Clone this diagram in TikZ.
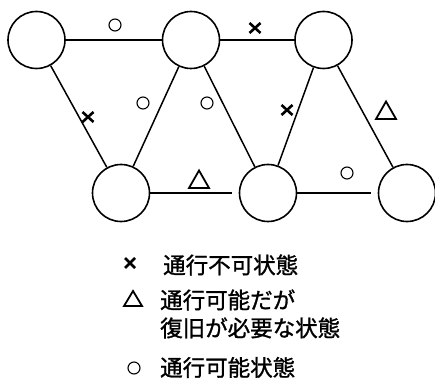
\documentclass[tikz,border=0pt]{standalone}
\usepackage{fontspec}
\newfontfamily\jp[FakeBold=1.2]{Noto Sans CJK JP}
\begin{document}
\begin{tikzpicture}[x=1pt,y=-1pt,
  site/.style={circle,draw,line width=1.6pt,minimum size=57pt,inner sep=0pt},
  road/.style={line width=1.5pt},
  okmark/.style={circle,draw,line width=1.1pt,minimum size=12pt,inner sep=0pt},
  ngmark/.style={line width=2.6pt},
  fixmark/.style={line width=1.8pt,line join=miter},
  legend/.style={anchor=base west,font=\jp\fontsize{22.5}{26}\selectfont,inner sep=0pt}]
\useasboundingbox (0,0) rectangle (435,379);
% sites
\node[site] (t1) at (36.5,40) {};
\node[site] (t2) at (191,40) {};
\node[site] (t3) at (323.5,40) {};
\node[site] (b1) at (121,193) {};
\node[site] (b2) at (268,193) {};
\node[site] (b3) at (407,193) {};
% roads
\draw[road] (t1) -- (t2);
\draw[road] (t2) -- (t3);
\draw[road] (t1) -- (b1);
\draw[road] (t2) -- (b1);
\draw[road] (t2) -- (b2);
\draw[road] (t3) -- (b2);
\draw[road] (t3) -- (b3);
\draw[road,shorten >=7pt] (b1) -- (b2);
\draw[road,shorten >=7pt] (b2) -- (b3);
% passable roads
\node[okmark] (o1) at (115,25) {};
\node[okmark] (o2) at (143,103) {};
\node[okmark] (o3) at (207,103) {};
\node[okmark] (o4) at (347,173) {};
% closed roads
\foreach \n/\x/\y in {x1/255/28, x2/88/117, x3/287/110}{
  \coordinate (\n) at (\x,\y);
  \draw[ngmark] ([shift={(-5.5,-5)}]\n) -- ([shift={(5.5,5)}]\n);
  \draw[ngmark] ([shift={(-5.5,5)}]\n) -- ([shift={(5.5,-5)}]\n);
}
% passable, repair needed
\foreach \n/\x/\y in {d1/386/111, d2/199/180}{
  \coordinate (\n) at (\x,\y);
  \draw[fixmark] ([shift={(-10,8)}]\n) -- ([shift={(0,-9.5)}]\n) -- ([shift={(10,8)}]\n) -- cycle;
}
% legend
\coordinate (lx) at (130,263);
\draw[ngmark] ([shift={(-5,-5)}]lx) -- ([shift={(5,5)}]lx);
\draw[ngmark] ([shift={(-5,5)}]lx) -- ([shift={(5,-5)}]lx);
\node[legend] (l1) at (163,273.5) {通行不可状態};
\coordinate (ld) at (133,299);
\draw[fixmark] ([shift={(-9,7)}]ld) -- ([shift={(0,-8)}]ld) -- ([shift={(9,7)}]ld) -- cycle;
\node[legend] (l2) at (160,308.5) {通行可能だが};
\node[legend] (l3) at (160,336.5) {復旧が必要な状態};
\node[okmark] (lo) at (134,368) {};
\node[legend] (l4) at (160,376) {通行可能状態};
\end{tikzpicture}
\end{document}
